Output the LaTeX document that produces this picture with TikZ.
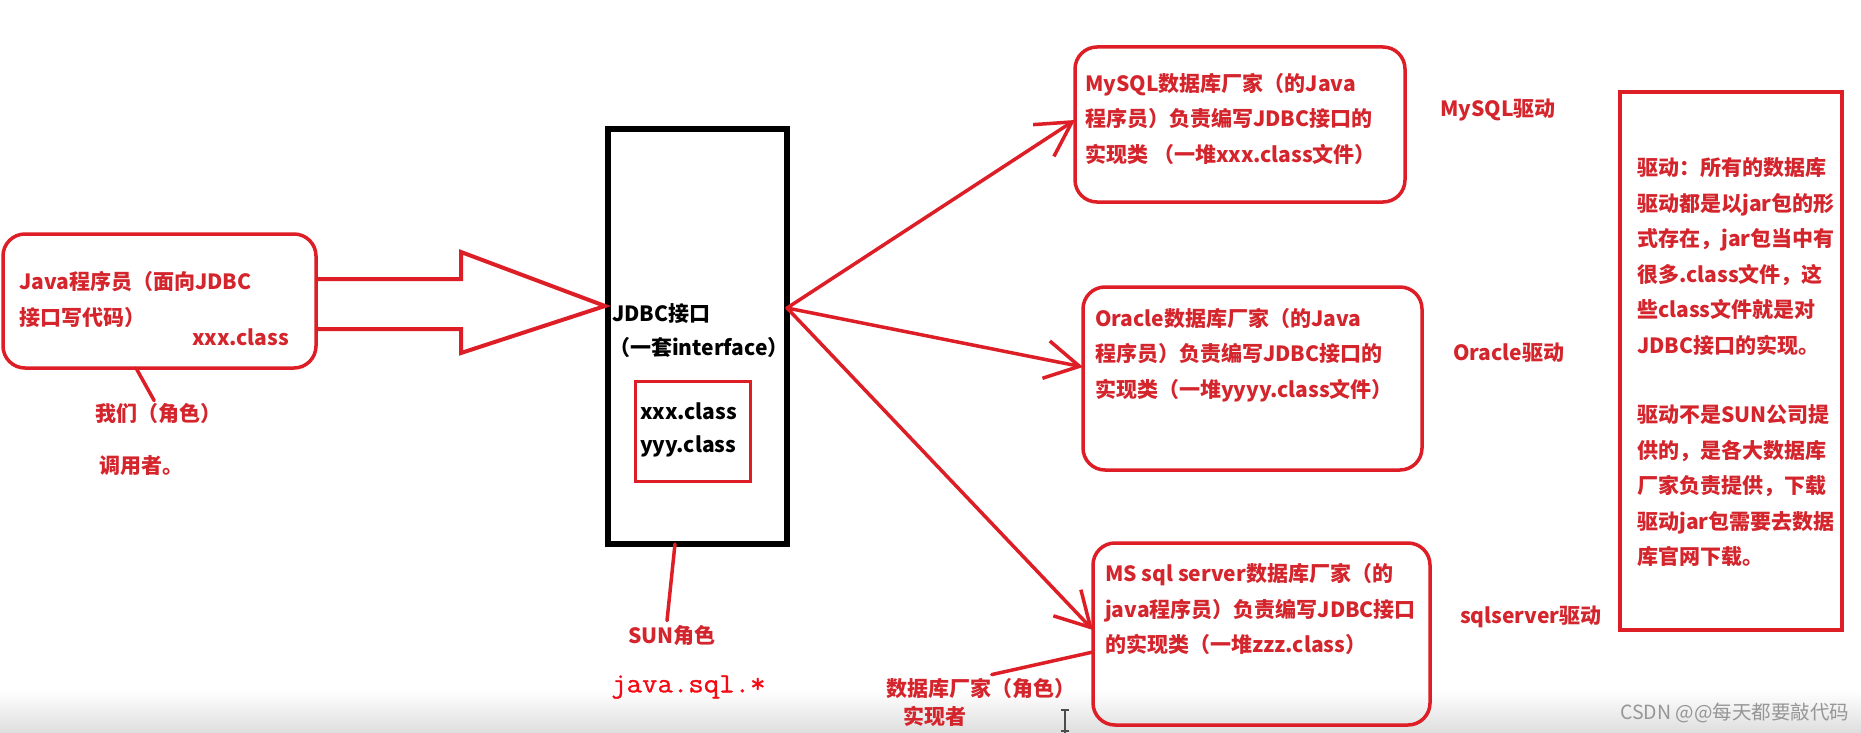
\documentclass[tikz,border=0pt]{standalone}
\usepackage{fontspec}
\setmainfont{Noto Sans CJK SC}
\newfontfamily\monofnt{Latin Modern Mono}[FakeStretch=1.07,FakeBold=1]
\usetikzlibrary{arrows.meta,calc}
\definecolor{lc}{RGB}{222,30,38}
\definecolor{tc}{RGB}{212,36,44}
\definecolor{jred}{RGB}{245,10,20}
\definecolor{wmgray}{RGB}{150,150,150}
\begin{document}
\begin{tikzpicture}[x=1pt,y=-1pt,
  rbox/.style={draw=lc, line width=3.5pt, rounded corners=22pt, inner sep=0pt, outer sep=0pt},
  sbox/.style={draw=lc, line width=3.5pt, inner sep=0pt, outer sep=0pt},
  txt/.style={text=tc, font=\bfseries\fontsize{21}{35.5}\selectfont, inner sep=0pt, align=left, anchor=west},
  btxt/.style={txt, text=black},
  ln/.style={draw=lc, line width=3.5pt, line cap=round},
  arr/.style={ln, -{Straight Barb[length=34pt,width=38pt]}}
]
\useasboundingbox (0,0) rectangle (1861,733);
\fill[white] (0,0) rectangle (1861,733);
\shade[top color=white, bottom color=black!13] (0,690) rectangle (1861,733);

% ---------- boxes ----------
\node[rbox, minimum width=313pt, minimum height=134pt] (java) at (159.5,301) {};
\node[rbox, minimum width=330pt, minimum height=155pt] (mysql) at (1240,124.5) {};
\node[rbox, minimum width=339pt, minimum height=183pt] (oracle) at (1252.5,378.5) {};
\node[rbox, minimum width=337pt, minimum height=182pt] (ms) at (1261.5,634) {};
\node[sbox, minimum width=222pt, minimum height=538pt] (note) at (1731,361) {};
\node[draw=black, line width=6pt, inner sep=0pt, outer sep=0pt, minimum width=179pt, minimum height=415pt] (jdbc) at (697.5,336.5) {};
\node[draw=lc, line width=3pt, inner sep=0pt, outer sep=0pt, minimum width=115pt, minimum height=100pt] (inner) at (692.5,431) {};

% ---------- texts ----------
\node[txt] (javatxt) at (19,299.5) {Java程序员（面向JDBC\\接口写代码）};
\node[txt] (javacls) at (192,337) {xxx.class};
\node[txt] (we) at (95,414) {我们（角色）};
\node[txt] (caller) at (99,466) {调用者。};

\node[btxt] (jdbctxt) at (612,314) {JDBC接口};
\node[btxt] (ifacetxt) at (609,348) {（一套interface）};
\node[btxt] (xcls) at (640,411) {xxx.class};
\node[btxt] (ycls) at (640,446) {yyy.class};

\node[txt, anchor=center] (sun) at (672,636) {SUN角色};
\node[anchor=west, inner sep=0pt, text=jred, font=\monofnt\fontsize{28}{28}\selectfont] (pkg) at (611,687) {java.sql.*};

\node[txt] (vendor) at (886,688) {数据库厂家（角色）};
\node[txt] (impl) at (903,716) {实现者};

\node[txt] (mysqltxt) at (1085,118.5) {MySQL数据库厂家（的Java\\程序员）负责编写JDBC接口的\\实现类 （一堆xxx.class文件）};
\node[txt] (oracletxt) at (1095,355) {Oracle数据库厂家（的Java\\程序员）负责编写JDBC接口的\\实现类（一堆yyyy.class文件）};
\node[txt] (mstxt) at (1105,609) {MS sql server数据库厂家（的\\java程序员）负责编写JDBC接口\\的实现类（一堆zzz.class）};

\node[txt] (mysqldrv) at (1440,110) {MySQL驱动};
\node[txt] (oracledrv) at (1453,353) {Oracle驱动};
\node[txt] (msdrv) at (1460,617) {sqlserver驱动};

\node[txt] (para1) at (1637,256.5) {驱动：所有的数据库\\驱动都是以jar包的形\\式存在，jar包当中有\\很多.class文件，这\\些class文件就是对\\JDBC接口的实现。};
\node[txt] (para2) at (1637,486) {驱动不是SUN公司提\\供的，是各大数据库\\厂家负责提供，下载\\驱动jar包需要去数据\\库官网下载。};

\node[anchor=west, inner sep=0pt, text=wmgray, font=\fontsize{19.5}{19.5}\selectfont] (wmark) at (1620,713) {CSDN @@每天都要敲代码};

% ---------- block arrow ----------
\draw[lc, line width=4pt, line join=miter]
  (java.east |- 0,279) -- (461,279) -- (461,252) -- (605,306) -- (461,353) -- (461,329) -- (java.east |- 0,329);

% ---------- arrows to vendors ----------
\coordinate (src) at (787,308);
\draw[arr] (src) -- (mysql.west |- 0,120);
\draw[arr] (src) -- (oracle.west |- 0,367);
\draw[arr] (src) -- (ms.west |- 0,630);

% ---------- pointer lines ----------
\draw[ln] (java.south -| 136,0) -- ($(we.north)+(-4,-3)$);
\draw[ln] (jdbc.south -| 675,0) -- ($(sun.north)+(-5,-5)$);
\draw[ln] ($(vendor.north)+(11,-3)$) -- (ms.west |- 0,652);

% ---------- cursor ----------
\draw[black!70, line width=1.2pt] (1065,710) -- (1065,733);
\draw[black!70, line width=1.2pt] (1061,710) -- (1069,710);
\draw[black!70, line width=1.2pt] (1061,731) -- (1069,731);
\end{tikzpicture}
\end{document}
